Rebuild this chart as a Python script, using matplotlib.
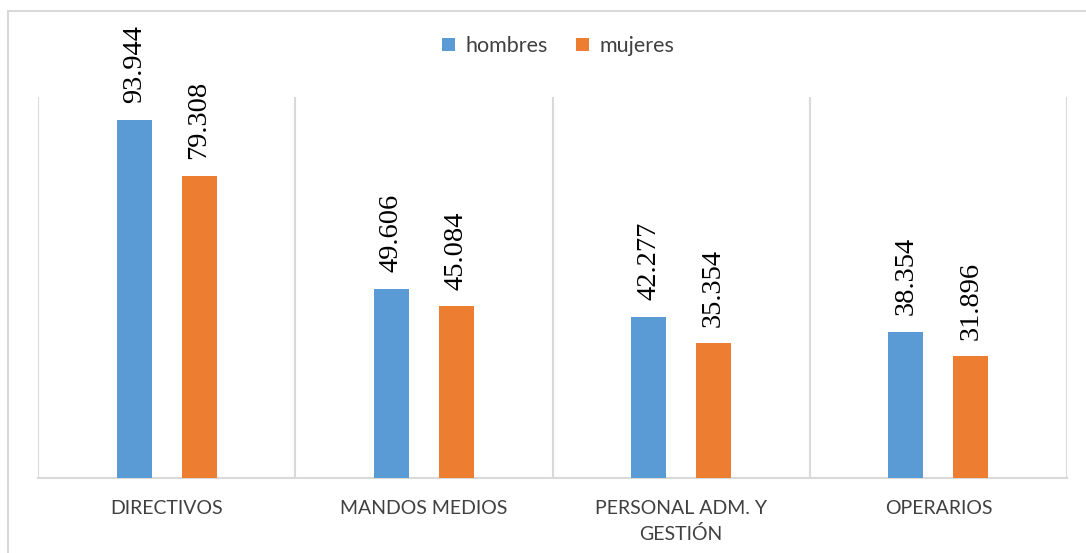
import numpy as np
import matplotlib.pyplot as plt
from matplotlib.patches import Rectangle

# Datos
categorias = ['DIRECTIVOS', 'MANDOS MEDIOS', 'PERSONAL ADM. Y\nGESTIÓN', 'OPERARIOS']
hombres = [93.944, 49.606, 42.277, 38.354]
mujeres = [79.308, 45.084, 35.354, 31.896]
etiquetas_h = ['93.944', '49.606', '42.277', '38.354']
etiquetas_m = ['79.308', '45.084', '35.354', '31.896']

azul = '#5B9BD5'
naranja = '#ED7D31'
gris = '#D9D9D9'

fig = plt.figure(figsize=(10.86, 5.53), dpi=100)
ax = fig.add_axes([38 / 1086, 1 - 478 / 553, (1067 - 38) / 1086, (478 - 97) / 553])

x = np.arange(len(categorias))
ancho = 0.136
desp = 0.126

b1 = ax.bar(x - desp, hombres, ancho, color=azul, label='hombres', zorder=3)
b2 = ax.bar(x + desp, mujeres, ancho, color=naranja, label='mujeres', zorder=3)

# Etiquetas de valores, rotadas
for barras, textos in [(b1, etiquetas_h), (b2, etiquetas_m)]:
    for b, t in zip(barras, textos):
        ax.annotate(t, (b.get_x() + b.get_width() / 2, b.get_height()),
                    xytext=(0, 12), textcoords='offset points',
                    rotation=90, ha='center', va='bottom',
                    fontsize=20.5, family='Liberation Serif', color='#000000',
                    annotation_clip=False)

ax.set_xlim(-0.5, len(categorias) - 0.5)
ax.set_ylim(0, 100)

# Separadores verticales entre categorias
for s in np.arange(-0.5, len(categorias), 1.0):
    ax.axvline(s, color=gris, linewidth=1.5, zorder=1)

for lado in ['top', 'right', 'left']:
    ax.spines[lado].set_visible(False)
ax.spines['bottom'].set_color(gris)
ax.spines['bottom'].set_linewidth(1.5)
ax.set_yticks([])
ax.set_xticks(x)
ax.set_xticklabels(categorias, fontsize=14, family='Lato', color='#404040',
                   linespacing=1.55)
ax.tick_params(axis='x', length=0, pad=16)
ax.set_facecolor('none')

leg = fig.legend(loc='center', bbox_to_anchor=(558 / 1086, 1 - 46 / 553), ncol=2,
                 frameon=False, prop={'family': 'Lato', 'size': 15.5},
                 handlelength=0.6, handleheight=0.6, handletextpad=0.5,
                 columnspacing=1.3)
for t in leg.get_texts():
    t.set_color('#404040')

# Borde del grafico
fig.patches.append(Rectangle((8 / 1086, -0.1), 1.2, 1 - 11 / 553 + 0.1,
                             transform=fig.transFigure, fill=False,
                             edgecolor=gris, linewidth=1.5))

fig.savefig('out.png', dpi=100)
